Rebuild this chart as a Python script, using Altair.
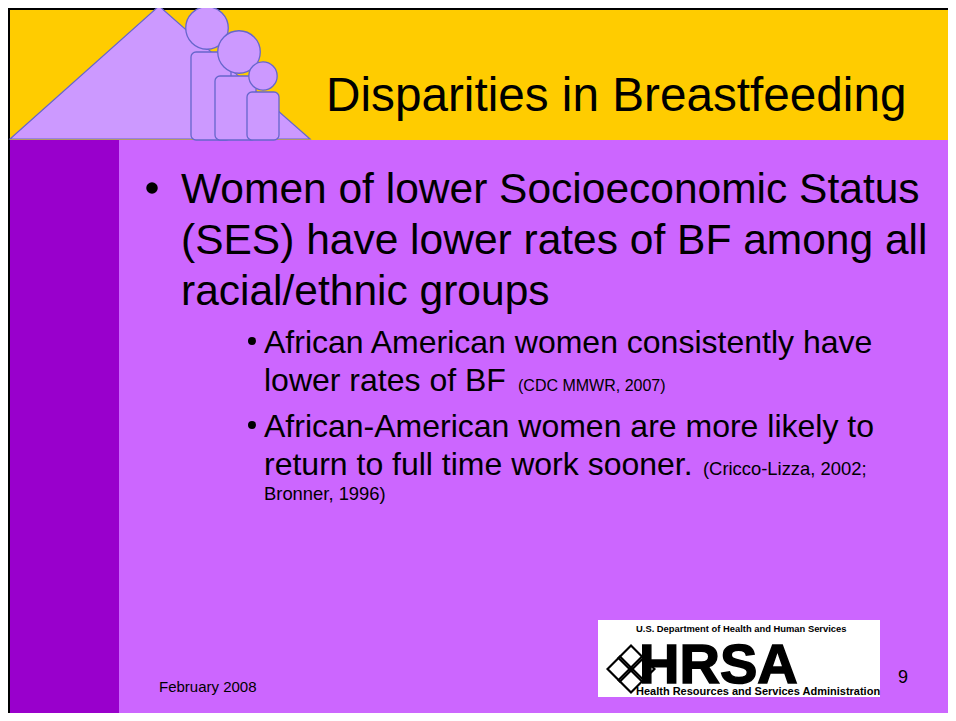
import altair as alt
import pandas as pd

# ---------------- content (text) ----------------
title_text = ["Disparities in Breastfeeding"]
main_lines = ["Women of lower Socioeconomic Status",
              "(SES) have lower rates of BF among all",
              "racial/ethnic groups"]
sub1_lines = ["African American women consistently have", "lower rates of BF"]
sub1_cite = ["(CDC MMWR, 2007)"]
sub2_lines = ["African-American women are more likely to", "return to full time work sooner."]
sub2_cite = ["(Cricco-Lizza, 2002;", "Bronner, 1996)"]
footer_date = ["February 2008"]
page_number = ["9"]
logo_top = ["U.S. Department of Health and Human Services"]
logo_big = ["HRSA"]
logo_bottom = ["Health Resources and Services Administration"]

# ---------------- colours ----------------
YELLOW = "#FFCC00"
LIGHT = "#CC66FF"
DARK = "#9900CC"
LAV = "#CC99FF"
EDGE = "#6666CC"

# ---------------- layout (slide pixel coordinates) ----------------
W, H = 940, 705
XMAX, YMAX = 8 + W, 8 + H

bg_x = [8, 8, 10, 10, 119, 598]
bg_x2 = [XMAX, 10, XMAX, 119, XMAX, 880]
bg_y = [8, 8, 10, 140, 140, 620]
bg_y2 = [10, YMAX, 140, YMAX, YMAX, 697]
bg_col = ["#000000", "#000000", YELLOW, DARK, LIGHT, "#FFFFFF"]

roof_x = [10, 159, 310]
roof_y = [139, 6, 139]

fig_cx = [207, 239, 263]
fig_cy = [28, 52, 76]
fig_r = [24, 24, 16]
body_x = [191, 215, 247]
body_x2 = [231, 256, 279]
body_y = [52, 76, 92]
body_y2 = [140, 140, 140]

text_rows = []
def add(lines, xs, ys, size):
    for t, x, y in zip(lines, xs, ys):
        text_rows.append({"text": t, "x": x, "y": y, "size": size})

add(title_text, [326], [111], 47.7)
add(main_lines, [181, 181, 181], [203, 254, 305], 42.5)
add(sub1_lines, [264, 264], [353, 391], 32)
add(sub1_cite, [518], [391], 16)
add(sub2_lines, [264, 264], [437, 475], 32)
add(sub2_cite, [703, 264], [475, 500], 18.4)
add(footer_date, [159], [692], 15)
add(page_number, [898], [683], 18)

bullet_x = [152, 252, 252]
bullet_y = [188, 341, 425]
bullet_d = [13, 9, 9]

knot_x = [620, 642, 631, 631]
knot_y = [669, 669, 658, 680]

xs = alt.Scale(domain=[8, XMAX], nice=False, zero=False)
ys = alt.Scale(domain=[8, YMAX], nice=False, zero=False, reverse=True)

def X(f):
    return alt.X(f"{f}:Q", scale=xs, axis=None)

def Y(f):
    return alt.Y(f"{f}:Q", scale=ys, axis=None)

bg = pd.DataFrame({"x": bg_x, "x2": bg_x2, "y": bg_y, "y2": bg_y2, "c": bg_col,
                   "o": list(range(len(bg_x)))})
bg_layer = alt.Chart(bg).mark_rect().encode(
    x=X("x"), x2="x2:Q", y=Y("y"), y2="y2:Q",
    color=alt.Color("c:N", scale=None), order="o:Q")

roof = pd.DataFrame({"x": roof_x, "y": roof_y, "y2": [139] * 3})
roof_layer = alt.Chart(roof).mark_area(fill=LAV, stroke=EDGE, strokeWidth=1.2, opacity=1).encode(
    x=X("x"), y=Y("y"), y2="y2:Q")

figs = pd.DataFrame({"i": [0, 1, 2], "cx": fig_cx, "cy": fig_cy, "r": fig_r,
                     "bx": body_x, "bx2": body_x2, "by": body_y, "by2": body_y2})
fig_layers = []
for i in range(3):
    circ = alt.Chart(figs).transform_filter(alt.datum.i == i).transform_calculate(
        s="PI*datum.r*datum.r").mark_point(
        shape="circle", filled=True, fill=LAV, stroke=EDGE, strokeWidth=1.3, opacity=1).encode(
        x=X("cx"), y=Y("cy"), size=alt.Size("s:Q", scale=None))
    body = alt.Chart(figs).transform_filter(alt.datum.i == i).mark_rect(
        cornerRadius=5, fill=LAV, stroke=EDGE, strokeWidth=1.3).encode(
        x=X("bx"), x2="bx2:Q", y=Y("by"), y2="by2:Q")
    fig_layers += [circ, body]

bul = pd.DataFrame({"x": bullet_x, "y": bullet_y, "d": bullet_d})
bul_layer = alt.Chart(bul).transform_calculate(s="PI*datum.d*datum.d/4").mark_point(
    shape="circle", filled=True, color="black", opacity=1).encode(
    x=X("x"), y=Y("y"), size=alt.Size("s:Q", scale=None))

txt = pd.DataFrame(text_rows)
txt_layer = alt.Chart(txt).mark_text(
    align="left", baseline="alphabetic", font="Liberation Sans, Arial, sans-serif", color="black").encode(
    x=X("x"), y=Y("y"), text="text:N", size=alt.Size("size:Q", scale=None))

logo = pd.DataFrame({"text": logo_top + logo_bottom, "x": [636, 636], "y": [632, 695], "size": [9.4, 11]})
logo_layer = alt.Chart(logo).mark_text(
    align="left", baseline="alphabetic", font="Liberation Sans",
    fontWeight="bold", color="black").encode(
    x=X("x"), y=Y("y"), text="text:N", size=alt.Size("size:Q", scale=None))

big = pd.DataFrame({"text": logo_big, "x": [639], "y": [683]})
big_layer = alt.Chart(big).mark_text(
    align="left", baseline="alphabetic", font="Liberation Sans", fontWeight="bold",
    fontSize=56, color="black", stroke="black", strokeWidth=1.5).encode(
    x=X("x"), y=Y("y"), text="text:N")

knot = pd.DataFrame({"x": knot_x, "y": knot_y})
knot_layer = alt.Chart(knot).mark_point(
    shape="diamond", filled=False, stroke="black", strokeWidth=2.2, size=620, opacity=1).encode(
    x=X("x"), y=Y("y"))

chart = alt.layer(bg_layer, roof_layer, *fig_layers, bul_layer, txt_layer,
                  logo_layer, big_layer, knot_layer).properties(
    width=W, height=H, padding=0, autosize=alt.AutoSizeParams(type="none")
).configure_view(stroke=None)

chart.save("out.html", embed_options={"renderer": "svg", "actions": False})
